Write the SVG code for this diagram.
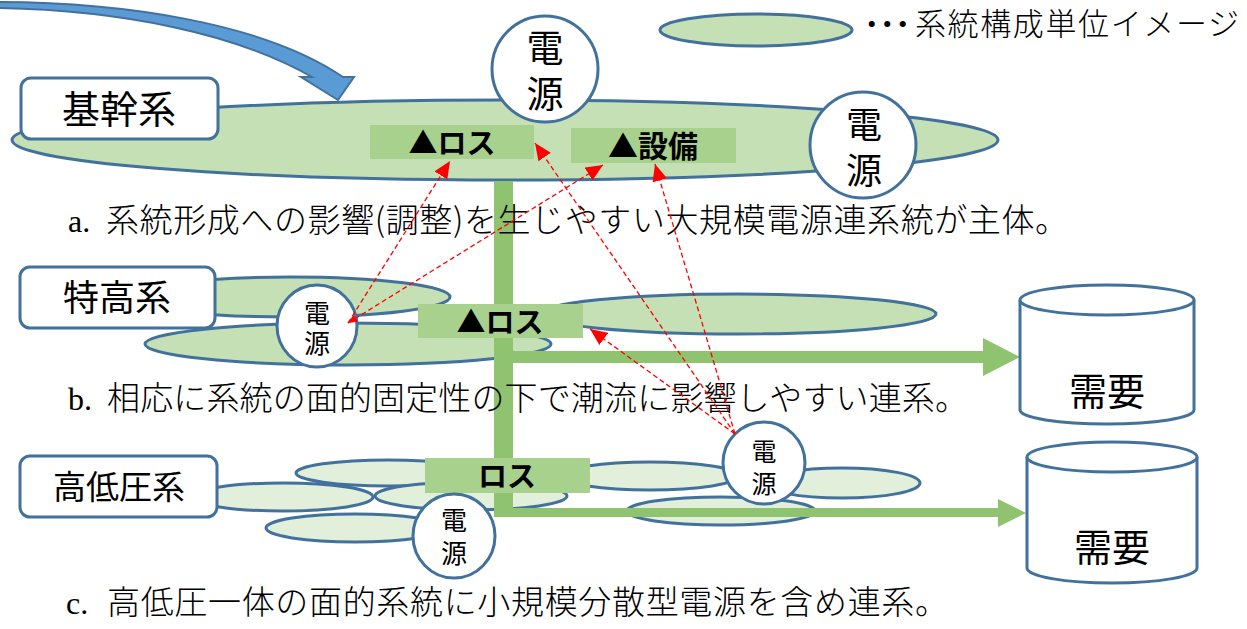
<svg xmlns="http://www.w3.org/2000/svg" width="1247" height="629" viewBox="0 0 1247 629">
<style>
.ell{fill:#c5e0b4;stroke:#41719c;stroke-width:3}
.ell2{fill:#e2efda;stroke:#41719c;stroke-width:3}
.circ{fill:#fff;stroke:#41719c;stroke-width:3}
.lbl{fill:#fff;stroke:#41719c;stroke-width:3}
.box{fill:#a9d18e}
.bar{fill:#8fc36f}
.jp{font-family:"Noto Sans CJK JP","Noto Sans",sans-serif;fill:#000}
.vt{font-family:"Noto Sans CJK JP","Noto Sans",sans-serif;fill:#000;writing-mode:vertical-rl;text-anchor:middle}
.mn{font-family:"Noto Sans CJK JP","Noto Sans",sans-serif;font-weight:300;fill:#000}
.lat{font-family:"Liberation Serif",serif}
.b{font-weight:bold}
.red{stroke:#ff0000;stroke-width:1.3;stroke-dasharray:5 3;fill:none}
.cyl{fill:#fff;stroke:#41719c;stroke-width:3}
</style>
<defs>
<marker id="ah" markerUnits="userSpaceOnUse" markerWidth="18" markerHeight="16" refX="17" refY="7.5" orient="auto"><path d="M0,0 L17,7.5 L0,15 z" fill="#ff0000"/></marker>
<marker id="ahs" markerUnits="userSpaceOnUse" markerWidth="10" markerHeight="8" refX="0" refY="4" orient="auto"><path d="M9,0 L0,4 L9,8 z" fill="#ff0000"/></marker>
</defs>

<g id="legend">
<ellipse class="ell" cx="756" cy="30" rx="96" ry="16"/>
<text class="mn" y="35" font-size="31"><tspan x="864" font-weight="bold">･･･</tspan><tspan x="915" textLength="324" lengthAdjust="spacing">系統構成単位イメージ</tspan></text>
</g>

<g id="kikan">
<ellipse class="ell" cx="505" cy="140" rx="493" ry="40"/>
<path d="M-5,2 C120,2 262,22 343,77 L354,77 L338,100 L301,77 L312,77 C235,33 120,10 -5,8 Z" fill="#5b9bd5" stroke="#41719c" stroke-width="2"/>
<rect class="lbl" x="21" y="78" width="197" height="61" rx="10"/>
<text class="jp" x="119" y="123" font-size="38" text-anchor="middle">基幹系</text>
<circle class="circ" cx="545" cy="69" r="53"/>
<text class="vt" x="545" y="75" font-size="37" letter-spacing="9">電源</text>
<circle class="circ" cx="863" cy="145" r="53"/>
<text class="vt" x="864" y="152" font-size="36" letter-spacing="10">電源</text>
<rect class="box" x="370" y="125" width="164" height="34"/>
<text class="jp b" x="452" y="154" font-size="29" text-anchor="middle">▲ロス</text>
<rect class="box" x="571" y="128" width="165" height="35"/>
<text class="jp b" x="653" y="157" font-size="30" text-anchor="middle">▲設備</text>
</g>

<g id="tokko">
<ellipse class="ell" cx="290" cy="297" rx="160" ry="20"/>
<ellipse class="ell" cx="348" cy="344" rx="203" ry="21"/>
<ellipse class="ell" cx="738" cy="314" rx="198" ry="20"/>
<rect class="lbl" x="20" y="267" width="195" height="61" rx="10"/>
<text class="jp" x="117" y="311" font-size="36" text-anchor="middle">特高系</text>
<ellipse class="circ" cx="317" cy="326" rx="40" ry="41"/>
<text class="vt" x="317" y="330" font-size="26" letter-spacing="4">電源</text>
</g>

<g id="kouteiatsu">
<ellipse class="ell2" cx="388" cy="473" rx="92" ry="13"/>
<ellipse class="ell2" cx="283" cy="497" rx="90" ry="14"/>
<ellipse class="ell2" cx="471" cy="496" rx="96" ry="14"/>
<ellipse class="ell2" cx="355" cy="528" rx="89" ry="14"/>
<ellipse class="ell2" cx="650" cy="476" rx="88" ry="14"/>
<ellipse class="ell2" cx="842" cy="483" rx="78" ry="15"/>
<ellipse class="ell2" cx="721" cy="511" rx="94" ry="14"/>
<rect class="lbl" x="20" y="456" width="197" height="61" rx="10"/>
<text class="jp" x="119" y="499" font-size="33" text-anchor="middle">高低圧系</text>
</g>

<g id="connectors">
<rect class="bar" x="494" y="181" width="19" height="336"/>
<rect class="bar" x="494" y="351" width="492" height="12"/>
<path class="bar" d="M983,338 L1020,357 L983,376 Z"/>
<rect class="bar" x="494" y="508" width="506" height="9"/>
<path class="bar" d="M998,499 L1026,513 L998,527 Z"/>
</g>

<g id="loss-mid">
<rect class="box" x="418" y="304" width="165" height="34"/>
<text class="jp b" x="500" y="333" font-size="29" text-anchor="middle">▲ロス</text>
</g>
<g id="loss-low">
<rect class="box" x="425" y="458" width="165" height="35"/>
<text class="jp b" x="507" y="487" font-size="29" text-anchor="middle">ロス</text>
</g>

<g id="gen-low1">
<ellipse class="circ" cx="454" cy="536" rx="41" ry="42"/>
<text class="vt" x="454" y="540" font-size="26" letter-spacing="7">電源</text>
</g>
<g id="gen-low2">
<ellipse class="circ" cx="764" cy="463" rx="41" ry="41"/>
<text class="vt" x="764" y="470.5" font-size="25" letter-spacing="7">電源</text>
</g>

<g id="demand1">
<path class="cyl" d="M1020,300 L1020,410 A87,14 0 0 0 1194,410 L1194,300"/>
<ellipse class="cyl" cx="1107" cy="300" rx="87" ry="15"/>
<text class="jp" x="1107" y="405" font-size="38" text-anchor="middle">需要</text>
</g>
<g id="demand2">
<path class="cyl" d="M1027,457 L1027,568 A85,15 0 0 0 1197,568 L1197,457"/>
<ellipse class="cyl" cx="1112" cy="457" rx="85" ry="15"/>
<text class="jp" x="1112" y="561" font-size="38" text-anchor="middle">需要</text>
</g>

<g id="captions">
<text class="mn" y="232" font-size="33"><tspan class="lat" x="68" font-size="32">a.</tspan><tspan x="106" textLength="962" lengthAdjust="spacing">系統形成への影響(調整)を生じやすい大規模電源連系統が主体。</tspan></text>
<text class="mn" y="410" font-size="33"><tspan class="lat" x="68" font-size="32">b.</tspan><tspan x="107" textLength="861" lengthAdjust="spacing">相応に系統の面的固定性の下で潮流に影響しやすい連系。</tspan></text>
<text class="mn" y="614" font-size="33"><tspan class="lat" x="66" font-size="32">c.</tspan><tspan x="107" textLength="841" lengthAdjust="spacing">高低圧一体の面的系統に小規模分散型電源を含め連系。</tspan></text>
</g>

<g id="influence">
<line class="red" x1="348" y1="323" x2="450" y2="161" marker-end="url(#ah)"/>
<line class="red" x1="348" y1="323" x2="603" y2="165" marker-end="url(#ah)" marker-start="url(#ahs)"/>
<line class="red" x1="735" y1="434" x2="590" y2="329" marker-end="url(#ah)"/>
<line class="red" x1="735" y1="434" x2="535" y2="143" marker-end="url(#ah)"/>
<line class="red" x1="735" y1="434" x2="655" y2="164" marker-end="url(#ah)"/>
</g>
</svg>
